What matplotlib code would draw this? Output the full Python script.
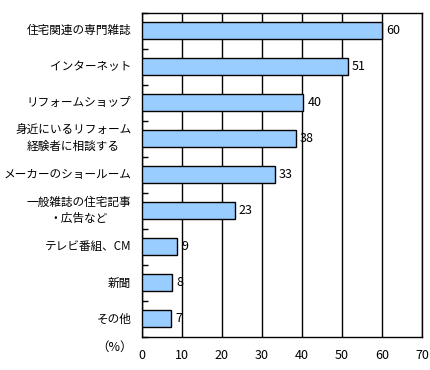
import matplotlib
matplotlib.use('Agg')
import matplotlib.pyplot as plt
import numpy as np

plt.rcParams['font.family'] = ['Noto Sans CJK JP', 'DejaVu Sans']

# data, top to bottom
categories = ['住宅関連の専門雑誌', 'インターネット', 'リフォームショップ',
              '身近にいるリフォーム\n経験者に相談する', 'メーカーのショールーム',
              '一般雑誌の住宅記事\n・広告など', 'テレビ番組、CM', '新聞', 'その他']
values = [60.0, 51.4, 40.4, 38.5, 33.2, 23.2, 8.9, 7.5, 7.3]
value_labels = ['60', '51', '40', '38', '33', '23', '9', '8', '7']
x_ticks = [0, 10, 20, 30, 40, 50, 60, 70]

fig = plt.figure(figsize=(4.3, 3.7), dpi=100)
ax = fig.add_axes([0.3295, 0.0892, 0.652, 0.877])

y = np.arange(len(categories))
ax.barh(y, values, height=0.47, color='#99CCFF', edgecolor='black',
        linewidth=1.0, zorder=3)

for yi, v, lab in zip(y, values, value_labels):
    ax.annotate(lab, (v, yi), xytext=(3, 0), textcoords='offset points',
                ha='left', va='center', fontsize=9, zorder=4)

ax.set_xlim(0, 70)
ax.set_ylim(len(categories) - 0.5, -0.5)
ax.set_xticks(x_ticks)
ax.tick_params(axis='x', length=0, pad=9, labelsize=9)
ax.xaxis.grid(True, color='black', linewidth=1.0, zorder=1)
ax.set_axisbelow(True)

# category labels as text, ticks at category boundaries pointing inward
ax.set_yticks(np.arange(len(categories) + 1) - 0.5)
ax.set_yticklabels([])
ax.tick_params(axis='y', direction='in', length=4, width=1, color='black')
for yi, cat in zip(y, categories):
    ax.text(-2.6, yi, cat, ha='right', va='center', multialignment='center',
            fontsize=8.4, linespacing=1.3)

for s in ax.spines.values():
    s.set_color('black')
    s.set_linewidth(1.0)

fig.text(115 / 430, 1 - 347 / 370, '（%）', ha='center', va='center', fontsize=9)

plt.savefig('out.png', dpi=100)
